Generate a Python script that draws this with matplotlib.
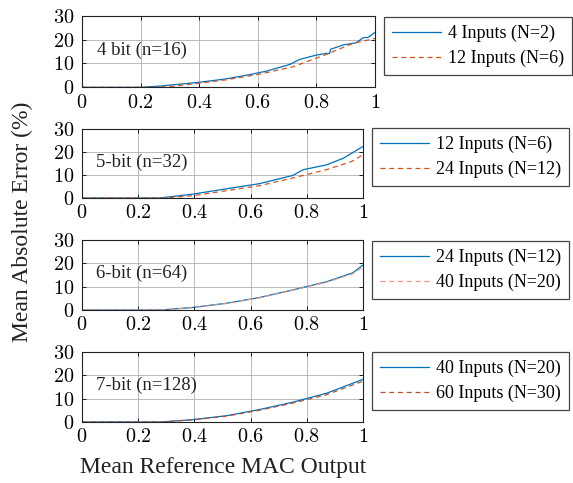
import numpy as np
import matplotlib
matplotlib.use("Agg")
import matplotlib.pyplot as plt
from matplotlib.ticker import FuncFormatter

plt.rcParams['font.family'] = 'Liberation Serif'
plt.rcParams['mathtext.fontset'] = 'cm'

blue = '#0072BD'
orange = '#D95319'

# panel 1: 4 bit
x1a = [0, 0.2, 0.265, 0.40, 0.49, 0.572, 0.63, 0.71, 0.743, 0.80, 0.834, 0.845, 0.848,
       0.89, 0.936, 0.96, 0.976, 1.0]
y1a = [0, 0, 0.5, 2.1, 3.5, 5.3, 6.8, 9.6, 11.7, 13.5, 14.2, 14.2, 15.9,
       17.7, 18.7, 20.8, 20.9, 23.0]
x1b = [0, 0.25, 0.30, 0.40, 0.49, 0.61, 0.72, 0.834, 0.925, 0.99, 1.0]
y1b = [0, 0, 0.3, 1.7, 3.1, 5.6, 8.6, 13.8, 18.4, 20.2, 20.5]

# panel 2: 5-bit
x2a = [0, 0.276, 0.395, 0.514, 0.63, 0.75, 0.787, 0.87, 0.93, 1.0]
y2a = [0, 0, 1.7, 4.0, 6.2, 9.8, 12.3, 14.4, 17.3, 22.4]
x2b = [0, 0.29, 0.395, 0.514, 0.63, 0.75, 0.87, 0.96, 1.0]
y2b = [0, 0, 1.0, 3.2, 5.3, 8.7, 12.3, 15.9, 18.8]

# panel 3: 6-bit
x3a = [0, 0.28, 0.395, 0.514, 0.63, 0.75, 0.87, 0.965, 1.0]
y3a = [0, 0, 1.1, 2.9, 5.3, 8.6, 12.1, 16.0, 19.3]
x3b = [0, 0.28, 0.395, 0.514, 0.63, 0.75, 0.87, 0.965, 1.0]
y3b = [0, 0, 1.0, 2.8, 5.2, 8.5, 11.9, 15.6, 18.5]

# panel 4: 7-bit
x4a = [0, 0.28, 0.395, 0.514, 0.63, 0.75, 0.87, 1.0]
y4a = [0, 0, 1.0, 2.7, 5.3, 8.5, 12.3, 18.3]
x4b = [0, 0.28, 0.395, 0.514, 0.63, 0.75, 0.87, 1.0]
y4b = [0, 0, 0.9, 2.5, 5.0, 8.1, 11.7, 17.5]

titles = ['4 bit (n=16)', '5-bit (n=32)', '6-bit (n=64)', '7-bit (n=128)']
labels_a = ['4 Inputs (N=2)', '12 Inputs (N=6)', '24 Inputs (N=12)', '40 Inputs (N=20)']
labels_b = ['12 Inputs (N=6)', '24 Inputs (N=12)', '40 Inputs (N=20)', '60 Inputs (N=30)']
colors_b = [orange, orange, '#E8977A', '#B5532E']
data = [(x1a, y1a, x1b, y1b), (x2a, y2a, x2b, y2b),
        (x3a, y3a, x3b, y3b), (x4a, y4a, x4b, y4b)]

W, H = 573, 483
fig = plt.figure(figsize=(W / 100, H / 100), dpi=100)

# axes boxes in pixels: left, right, top, bottom
boxes = [(82, 375, 15.7, 87.3), (82, 363, 129, 198), (82, 363, 240, 310), (82, 363, 352, 422)]
# legend top-left corners in pixels
leg_pos = [(384, 17), (372, 128), (372, 241), (372, 352)]

fmt = FuncFormatter(lambda v, p: '$%g$' % v)

for i, (l, r, t, b) in enumerate(boxes):
    ax = fig.add_axes([l / W, 1 - b / H, (r - l) / W, (b - t) / H])
    xa, ya, xb, yb = data[i]
    ax.plot(xa, ya, color=blue, lw=0.9, label=labels_a[i])
    ax.plot(xb, yb, color=colors_b[i], lw=0.9, ls=(0, (4, 3)), label=labels_b[i])
    ax.set_xlim(0, 1)
    ax.set_ylim(0, 30)
    ax.set_xticks([0, 0.2, 0.4, 0.6, 0.8, 1])
    ax.set_yticks([0, 10, 20, 30])
    ax.xaxis.set_major_formatter(fmt)
    ax.yaxis.set_major_formatter(fmt)
    ax.grid(True, color='#b0b0b0', lw=0.6)
    ax.tick_params(direction='in', top=True, right=True, length=3, width=0.6,
                   labelsize=14.5)
    ax.tick_params(axis='y', pad=5.5)
    ax.tick_params(axis='x', pad=4.5)
    for s in ax.spines.values():
        s.set_linewidth(0.8)
        s.set_color('#222222')
    ax.text(0.05, 0.52, titles[i], transform=ax.transAxes, fontsize=13.5,
            va='center', ha='left', color='#222222')
    lx, ly = leg_pos[i]
    leg = ax.legend(loc='upper left', bbox_to_anchor=(lx / W, 1 - ly / H),
                    bbox_transform=fig.transFigure, fontsize=13, fancybox=False,
                    edgecolor='#444444', framealpha=1, handlelength=2.7,
                    handletextpad=0.4, borderpad=0.45, labelspacing=0.4,
                    borderaxespad=0)
    leg.get_frame().set_linewidth(0.9)

fig.text(22 / W, 1 - 222 / H, 'Mean Absolute Error (%)', rotation=90,
         ha='center', va='center', fontsize=17, color='#222222')
fig.text(223 / W, 1 - 468 / H, 'Mean Reference MAC Output',
         ha='center', va='center', fontsize=17, color='#222222')

fig.savefig('out.png', dpi=100)
